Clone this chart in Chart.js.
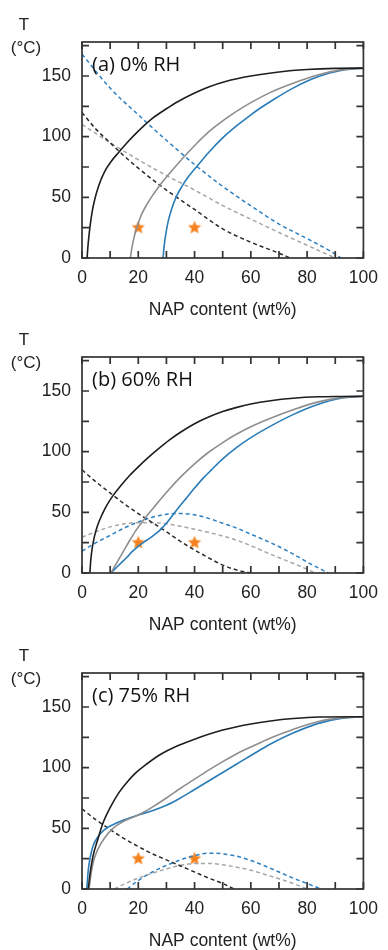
<!DOCTYPE html>
<html>
<head>
<meta charset="utf-8">
<script src="https://cdn.jsdelivr.net/npm/chart.js@4.4.1/dist/chart.umd.min.js"></script>
<style>
  html, body { margin: 0; padding: 0; background: #fff; }
  body { width: 388px; height: 950px; position: relative; overflow: hidden; }
  .panel { position: absolute; left: 0; width: 388px; height: 322px; }
</style>
</head>
<body>
<div class="panel" style="top:-1px"><canvas id="chartA"></canvas></div>
<div class="panel" style="top:314px"><canvas id="chartB"></canvas></div>
<div class="panel" style="top:630px"><canvas id="chartC"></canvas></div>
<script>
// axis ticks (labelled + tick marks)
const xTickLabels = [0, 20, 40, 60, 80, 100];
const yTickLabels = [0, 50, 100, 150];
const xTickMarks = [0, 10, 20, 30, 40, 50, 60, 70, 80, 90, 100];
const yTickMarks = [0, 25, 50, 75, 100, 125, 150, 175];
const panelLabels = ['(a) 0% RH', '(b) 60% RH', '(c) 75% RH'];
const starPoints = [[20, 25], [40, 25]];

// (a) 0% RH  -- [NAP wt%, T degC]
const a_blackSolid = [[1.8,0],[2.2,12],[2.8,25],[3.6,38],[4.5,48],[6,60],[8,71],[10.5,80],[13,87],[16,95],[20,104.5],[25,115],[30,123],[34,128.8],[40,136],[45,141],[51,145.5],[60,150],[70,153.3],[80,155.3],[90,156.3],[100,156.5]];
const a_graySolid = [[17.2,0],[17.7,8],[18.5,17],[19.6,26],[21,35],[23,44],[25.5,53],[28,61],[31,69.5],[34,77.5],[37.5,86.5],[41,95],[45,104],[50,113],[55,121],[60,128],[67,136.5],[75,144],[84,151],[92,155],[100,156.5]];
const a_blueSolid = [[28.8,0],[29.2,10],[29.8,20],[30.6,30],[31.8,40],[33.4,50],[35.5,59],[38,67.5],[41,76],[45,87],[50,99],[55,109],[60,118],[63,123],[67,129],[75,140],[84,149.5],[92,154.5],[100,156.5]];
const a_blackDash = [[0,120],[5,106],[10,95],[15,84],[20,74],[30,56],[40,40],[50,24],[60,13],[70,4],[74,0]];
const a_grayDash = [[0,110],[10,95],[20,81],[30,68],[40,56],[51,42],[60,32],[70,21],[80,10.5],[90,0]];
const a_blueDash = [[0,168],[10,140],[20,118],[30,97],[40,77],[50,59],[60,43],[70,28],[80,16],[88,6],[92,0]];

// (b) 60% RH
const b_blackSolid = [[2.8,0],[3.1,10],[3.6,20],[4.4,30],[5.5,39],[7,47.5],[9,56.5],[11.4,65],[14,72.5],[17,80.5],[20,87.5],[23,94],[27,102],[31,109.5],[35,116],[40,123],[45,128.5],[50,133],[55,136.5],[60,139.3],[67,142],[75,144],[84,145.2],[92,145.5],[100,145.6]];
const b_graySolid = [[10.3,0],[11.5,5],[13,11],[15,19],[17,27],[19,34.5],[21,41],[23,47],[25.5,54],[28,61],[31,69],[35,79],[40,90],[45,99.5],[50,107.5],[55,114.5],[60,120.5],[67,127.5],[75,134.5],[84,141],[92,144.5],[100,145.6]];
const b_blueSolid = [[10.3,0],[12,4],[14,8.5],[16,13],[18,18],[20,22],[22,25.5],[24,28.5],[26,32],[28,36],[30,41],[32,47],[34,53],[37,61.5],[40,70],[43,78],[46,85],[50,94],[55,103.5],[60,111.5],[67,121],[75,130.5],[84,139],[92,144],[100,145.6]];
const b_blackDash = [[0,85],[5,75],[10,66],[15,57],[20,49],[25,41.5],[30,34],[35,26],[40,19],[45,12.5],[50,6.5],[55,2.5],[60,0]];
const b_grayDash = [[0,29.5],[5,34],[10,38],[15,40.5],[20,41.5],[25,41.5],[30,40.5],[35,38.5],[40,36],[45,33.5],[50,30.5],[55,27],[60,22.5],[67,15.5],[75,8],[83,0]];
const b_blueDash = [[0,18],[5,25],[10,31],[15,37],[20,42],[25,46],[30,48.5],[35,49],[40,48],[45,45],[50,41],[55,37],[60,32],[67,25],[74,17],[80,9],[87.5,0]];

// (c) 75% RH
const c_blackSolid = [[2.2,0],[3,15],[4,28],[5.5,40],[7.4,54],[10,67],[13,79],[16,88],[19,95.5],[23,103],[28,111],[34,118],[40,123.5],[50,131],[60,136],[67,138.5],[75,140.5],[84,141.8],[100,142]];
const c_graySolid = [[2.5,0],[3.2,12],[4,22],[5.5,32],[8,42],[11,50],[15,56],[20,61],[25,67.5],[30,75],[35,83],[40,90.5],[45,98],[50,105],[55,111.5],[60,117],[67,124.5],[75,131.5],[84,138],[92,141],[100,142]];
const c_blueSolid = [[1.7,0],[2.2,15],[3,27],[4,36],[6,44],[8,49],[11,53],[15,57],[20,61],[25,64.5],[30,69],[35,75],[40,82],[45,89],[50,96],[55,103],[60,110],[67,119.5],[75,128.5],[84,136.5],[92,140.5],[100,142]];
const c_blackDash = [[0,66],[5,57],[10,49],[15,41.5],[20,35],[25,29],[30,24],[35,19],[40,14],[45,9],[50,4.5],[54,0]];
const c_grayDash = [[11.5,0],[15,4],[20,9],[25,13],[30,16.5],[35,19.5],[40,21],[45,21],[50,20],[55,18],[60,15.5],[65,12],[70,8.5],[75,4.5],[80,0]];
const c_blueDash = [[16,0],[20,7],[25,14],[30,19.5],[35,24],[40,27.5],[45,29.5],[50,29],[55,27],[60,23.5],[65,19],[70,14],[75,9],[80,4.5],[85,0]];

const BLACK = '#1e1e1e', GRAY = '#8e8e8e', BLUE = '#2a7cb8';
const GRAY_D = '#a6a6a6', BLACK_D = '#2a2a2a', BLUE_D = '#2f80c0';
const ORANGE = '#f5821f';
const FONT = '"Liberation Sans", Arial, sans-serif';

// filled 5 point star used as point style
function makeStar(r) {
  const c = document.createElement('canvas');
  c.width = c.height = r * 2 + 2;
  const g = c.getContext('2d');
  g.fillStyle = ORANGE;
  g.beginPath();
  for (let i = 0; i < 10; i++) {
    const rad = i % 2 === 0 ? r : r * 0.45;
    const ang = -Math.PI / 2 + i * Math.PI / 5;
    const px = r + 1 + rad * Math.cos(ang), py = r + 1 + rad * Math.sin(ang);
    i === 0 ? g.moveTo(px, py) : g.lineTo(px, py);
  }
  g.closePath();
  g.fill();
  return c;
}
const starImg = makeStar(7);

function line(pts, color, dashed) {
  return {
    data: pts.map(p => ({x: p[0], y: p[1]})),
    borderColor: color,
    borderWidth: dashed ? 1.5 : 1.6,
    borderDash: dashed ? [4, 3] : [],
    pointRadius: 0,
    showLine: true,
    fill: false,
    cubicInterpolationMode: 'monotone'
  };
}

// box, inward tick marks, T (°C) label and panel label
const framePlugin = {
  id: 'frame',
  afterDatasetsDraw(chart, args, opts) {
    const {ctx, chartArea: {left, right, top, bottom}, scales: {x, y}} = chart;
    ctx.save();
    ctx.strokeStyle = '#333';
    ctx.lineWidth = 1.7;
    ctx.strokeRect(left, top, right - left, bottom - top);
    const tl = 7;
    ctx.beginPath();
    xTickMarks.forEach(v => {
      const px = x.getPixelForValue(v);
      ctx.moveTo(px, bottom); ctx.lineTo(px, bottom - tl);
      ctx.moveTo(px, top); ctx.lineTo(px, top + tl);
    });
    yTickMarks.forEach(v => {
      const py = y.getPixelForValue(v);
      ctx.moveTo(left, py); ctx.lineTo(left + tl, py);
      ctx.moveTo(right, py); ctx.lineTo(right - tl, py);
    });
    ctx.stroke();

    ctx.fillStyle = '#222';
    ctx.textAlign = 'center';
    ctx.textBaseline = 'middle';
    ctx.font = '17px ' + FONT;
    ctx.fillText('T', 24, top - 17);
    ctx.fillText('(°C)', 26, top + 6);

    ctx.fillStyle = '#111';
    ctx.textAlign = 'left';
    ctx.font = '20px "Open Sans", Lato, sans-serif';
    ctx.fillText(opts.label, 92, top + 23);
    ctx.restore();
  }
};

function makeChart(id, label, curves) {
  new Chart(document.getElementById(id), {
    type: 'scatter',
    data: {
      datasets: [
        line(curves[0], BLACK, false),
        line(curves[1], GRAY, false),
        line(curves[2], BLUE, false),
        line(curves[3], BLACK_D, true),
        line(curves[4], GRAY_D, true),
        line(curves[5], BLUE_D, true),
        {
          data: starPoints.map(p => ({x: p[0], y: p[1]})),
          pointStyle: starImg,
          pointRadius: 7,
          showLine: false
        }
      ]
    },
    options: {
      responsive: true,
      maintainAspectRatio: false,
      animation: false,
      layout: {padding: {top: 43, right: 17, left: 0, bottom: 0}},
      plugins: {
        legend: {display: false},
        tooltip: {enabled: false},
        frame: {label: label}
      },
      scales: {
        x: {
          type: 'linear', min: 0, max: 100,
          grid: {display: false, drawTicks: false},
          border: {display: false},
          afterFit: s => { s.height = 63; },
          afterBuildTicks: s => { s.ticks = xTickLabels.map(v => ({value: v})); },
          ticks: {padding: 10, color: '#222', font: {family: FONT, size: 17.5}},
          title: {display: true, text: 'NAP content (wt%)', color: '#222',
                  padding: {top: 0, bottom: 0}, font: {family: FONT, size: 17.5}}
        },
        y: {
          type: 'linear', min: 0, max: 178,
          grid: {display: false, drawTicks: false},
          border: {display: false},
          afterFit: s => { s.width = 82; },
          afterBuildTicks: s => { s.ticks = yTickLabels.map(v => ({value: v})); },
          ticks: {padding: 11, color: '#222', font: {family: FONT, size: 17.5}}
        }
      }
    },
    plugins: [framePlugin]
  });
}

makeChart('chartA', panelLabels[0], [a_blackSolid, a_graySolid, a_blueSolid, a_blackDash, a_grayDash, a_blueDash]);
makeChart('chartB', panelLabels[1], [b_blackSolid, b_graySolid, b_blueSolid, b_blackDash, b_grayDash, b_blueDash]);
makeChart('chartC', panelLabels[2], [c_blackSolid, c_graySolid, c_blueSolid, c_blackDash, c_grayDash, c_blueDash]);
</script>
</body>
</html>
